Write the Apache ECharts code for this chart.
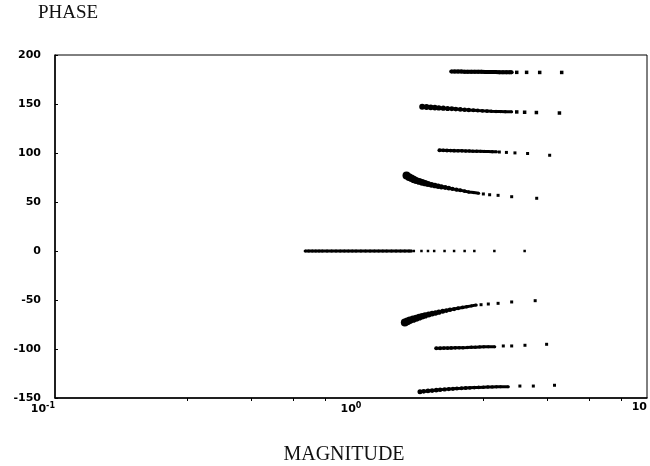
<!DOCTYPE html>
<html>
<head>
<meta charset="utf-8">
<script src="https://cdn.jsdelivr.net/npm/echarts@6/dist/echarts.min.js"></script>
<style>html,body{margin:0;padding:0;background:#fff}#c{width:650px;height:466px}</style>
</head>
<body>
<div id="c"></div>
<script>
// Tick labels
const yTicks = [-150, -100, -50, 0, 50, 100, 150, 200];
const xTickLabels = {"0.1": "10{s|-1}", "1": "10{s|0}", "10": "10"};

// Band near phase 183
const bandAMag = [2.18,2.24,2.30,2.36,2.42,2.48,2.55,2.62,2.69,2.76,2.84,2.92,3.00,3.08,3.17,3.26,3.35,3.44,3.49];
const bandAPhase = [183.2,183.2,183.1,183.1,183.0,183.0,182.9,182.9,182.8,182.8,182.7,182.7,182.6,182.6,182.5,182.5,182.4,182.4,182.4];
const bandASparseMag = [3.63,3.92,4.34,5.15];
const bandASparsePhase = [182.3,182.3,182.2,182.2];

// Band near phase 147 -> 141
const bandBMag = [1.74,1.80,1.86,1.92,1.98,2.05,2.12,2.19,2.26,2.34,2.42,2.50,2.59,2.68,2.78,2.88,2.98,3.09,3.20,3.32,3.49];
const bandBPhase = [147.2,146.9,146.6,146.3,146.0,145.7,145.4,145.1,144.8,144.5,144.2,143.9,143.6,143.3,143.0,142.8,142.6,142.4,142.3,142.2,142.1];
const bandBSparseMag = [3.63,3.86,4.23,5.06];
const bandBSparsePhase = [141.9,141.6,141.3,140.8];

// Band near phase 102
const bandCMag = [1.99,2.05,2.11,2.17,2.23,2.30,2.37,2.44,2.51,2.58,2.66,2.74,2.82,2.91,3.00,3.10];
const bandCPhase = [102.8,102.7,102.6,102.5,102.4,102.3,102.2,102.1,102.0,101.9,101.8,101.7,101.6,101.5,101.4,101.3];
const bandCSparseMag = [3.17,3.35,3.58,3.95,4.69];
const bandCSparsePhase = [101.0,100.6,100.1,99.5,97.7];

// Band 77 -> 54
const bandDMag = [1.54,1.57,1.60,1.63,1.66,1.70,1.74,1.78,1.82,1.87,1.92,1.97,2.02,2.08,2.14,2.20,2.27,2.34,2.42,2.50,2.60,2.70];
const bandDPhase = [77.0,75.5,74.2,73.0,72.0,71.0,70.0,69.2,68.4,67.5,66.8,66.1,65.5,64.8,64.1,63.4,62.6,61.9,61.1,60.3,59.6,59.0];
const bandDSparseMag = [2.80,2.94,3.14,3.49,4.24];
const bandDSparsePhase = [58.2,57.4,56.8,55.4,53.8];

// Band at phase 0
const band0Mag = [0.70,0.72,0.74,0.76,0.78,0.80,0.83,0.86,0.89,0.92,0.95,0.98,1.01,1.04,1.08,1.12,1.16,1.20,1.24,1.28,1.32,1.37,1.42,1.47,1.52,1.57,1.60];
const band0Phase = [0,0,0,0,0,0,0,0,0,0,0,0,0,0,0,0,0,0,0,0,0,0,0,0,0,0,0];
const band0SparseMag = [1.63,1.73,1.82,1.91,2.07,2.23,2.42,2.61,3.05,3.86];
const band0SparsePhase = [0,0,0,0,0,0,0,0,0,0];

// Band -73 -> -51
const bandEMag = [1.52,1.55,1.58,1.62,1.66,1.70,1.74,1.78,1.83,1.88,1.93,1.98,2.04,2.10,2.16,2.23,2.30,2.38,2.46,2.55,2.65];
const bandEPhase = [-73.0,-71.8,-70.7,-69.6,-68.6,-67.6,-66.6,-65.7,-64.8,-63.9,-63.2,-62.4,-61.6,-60.8,-60.0,-59.2,-58.4,-57.6,-56.8,-56.0,-55.1];
const bandESparseMag = [2.75,2.91,3.14,3.49,4.19];
const bandESparsePhase = [-54.8,-54.1,-53.4,-52.0,-50.7];

// Band near -98
const bandFMag = [1.94,2.00,2.06,2.12,2.18,2.25,2.32,2.39,2.47,2.55,2.63,2.72,2.81,2.91,3.06];
const bandFPhase = [-99.3,-99.2,-99.1,-99.0,-98.9,-98.8,-98.7,-98.6,-98.4,-98.2,-98.1,-97.9,-97.8,-97.7,-97.6];
const bandFSparseMag = [3.27,3.49,3.87,4.58];
const bandFSparsePhase = [-96.9,-96.9,-96.2,-95.2];

// Band near -143 -> -137
const bandGMag = [1.71,1.76,1.82,1.88,1.94,2.00,2.07,2.14,2.21,2.28,2.36,2.44,2.52,2.61,2.70,2.80,2.90,3.00,3.10,3.20,3.40];
const bandGPhase = [-143.6,-143.2,-142.8,-142.4,-142.0,-141.6,-141.2,-140.9,-140.6,-140.3,-140.1,-139.8,-139.6,-139.4,-139.2,-139.0,-138.8,-138.7,-138.6,-138.5,-138.4];
const bandGSparseMag = [3.72,4.13,4.87];
const bandGSparsePhase = [-137.8,-137.8,-137.0];

function zip(a, b) { return a.map((v, i) => [v, b[i]]); }

function dense(mag, phase, s0, s1) {
  const n = mag.length;
  return {
    type: 'line', symbol: 'circle', showSymbol: true, showAllSymbol: true,
    data: zip(mag, phase),
    symbolSize: (v, p) => s0 + (s1 - s0) * (p.dataIndex / Math.max(1, n - 1)),
    itemStyle: { color: '#000', opacity: 1, borderWidth: 0 },
    lineStyle: { color: '#000', width: s1 },
    silent: true, z: 3
  };
}
function sparse(mag, phase, sz) {
  return {
    type: 'scatter', symbol: 'rect', symbolSize: sz,
    data: zip(mag, phase),
    itemStyle: { color: '#000', opacity: 1 },
    silent: true, z: 3
  };
}

const chart = echarts.init(document.getElementById('c'), null, { renderer: 'canvas' });
chart.setOption({
  backgroundColor: '#fff',
  animation: false,
  graphic: [
    { type: 'text', left: 38, top: 4, silent: true,
      style: { text: 'PHASE', font: '19px "Liberation Serif"', fill: '#111' } },
    { type: 'text', x: 344, y: 455, silent: true,
      style: { text: 'MAGNITUDE', font: '20px "Liberation Serif"', fill: '#111', align: 'center', verticalAlign: 'middle' } }
  ],
  grid: { left: 55, right: 2, top: 55, bottom: 68, show: true, borderColor: '#000', borderWidth: 1 },
  xAxis: {
    type: 'log', logBase: 10, min: 0.1, max: 10,
    axisLine: { onZero: false, lineStyle: { color: '#000', width: 1.5 } },
    axisTick: { show: false },
    minorTick: { show: true, inside: true, length: 3, splitNumber: 5, lineStyle: { color: '#000' } },
    splitLine: { show: false },
    axisLabel: {
      margin: 4, color: '#000', fontFamily: 'DejaVu Sans', fontWeight: 'bold', fontSize: 11,
      alignMinLabel: 'right', alignMaxLabel: 'right',
      formatter: v => xTickLabels[String(+v.toPrecision(3))] || '',
      rich: { s: { fontSize: 8, fontWeight: 'bold', fontFamily: 'DejaVu Sans', verticalAlign: 'top', padding: [0,0,6,0] } }
    }
  },
  yAxis: {
    type: 'value', min: yTicks[0], max: yTicks[yTicks.length - 1], interval: 50,
    axisLine: { show: true, lineStyle: { color: '#000', width: 1.5 } },
    axisTick: { show: true, inside: true, length: 3, lineStyle: { color: '#000' } },
    splitLine: { show: false },
    axisLabel: { margin: 14, color: '#000', fontFamily: 'DejaVu Sans', fontWeight: 'bold', fontSize: 11 }
  },
  series: [
    dense(bandAMag, bandAPhase, 4, 4), sparse(bandASparseMag, bandASparsePhase, 3.5),
    dense(bandBMag, bandBPhase, 6, 3), sparse(bandBSparseMag, bandBSparsePhase, 3.5),
    dense(bandCMag, bandCPhase, 4, 3), sparse(bandCSparseMag, bandCSparsePhase, 3),
    dense(bandDMag, bandDPhase, 8, 3), sparse(bandDSparseMag, bandDSparsePhase, 3),
    dense(band0Mag, band0Phase, 3, 3), sparse(band0SparseMag, band0SparsePhase, 2.5),
    dense(bandEMag, bandEPhase, 8, 3), sparse(bandESparseMag, bandESparsePhase, 3),
    dense(bandFMag, bandFPhase, 4, 3), sparse(bandFSparseMag, bandFSparsePhase, 3),
    dense(bandGMag, bandGPhase, 5, 3), sparse(bandGSparseMag, bandGSparsePhase, 3)
  ]
});
</script>
</body>
</html>
